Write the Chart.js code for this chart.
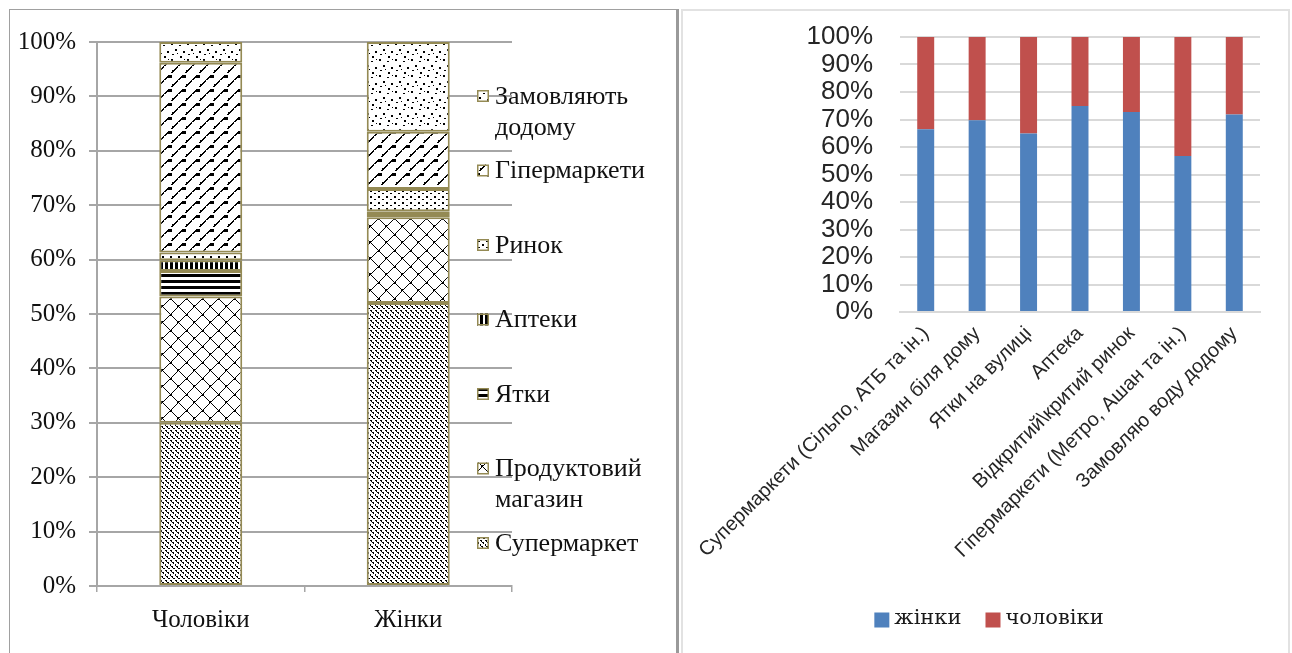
<!DOCTYPE html>
<html>
<head>
<meta charset="utf-8">
<script src="https://cdn.jsdelivr.net/npm/chart.js@4/dist/chart.umd.min.js"></script>
<style>
  html, body { margin: 0; padding: 0; background: #fff; width: 1292px; height: 653px; overflow: hidden; }
  .panel { position: absolute; box-sizing: border-box; }
  #leftPanel { left: 9px; top: 9px; width: 670px; height: 700px;
               border-left: 1.5px solid #a0a0a0; border-top: 1.5px solid #a0a0a0; border-right: 3px solid #9a9a9a; }
  #rightPanel { left: 681px; top: 9px; width: 609px; height: 700px; border: 2px solid #e2e2e2; }
  canvas { position: absolute; }
  #genderChart { left: 10px; top: 10px; }
  #placeChart { left: 683px; top: 11px; }
</style>
</head>
<body>
<div class="panel" id="leftPanel"></div>
<div class="panel" id="rightPanel"></div>
<canvas id="genderChart" width="666" height="643"></canvas>
<canvas id="placeChart" width="607" height="642"></canvas>
<script>
// ---- Where men and women buy water (shares, %) ----
const genderCategories = ['Чоловіки', 'Жінки'];
const outletLabels = ['Супермаркет', 'Продуктовий магазин', 'Ятки', 'Аптеки', 'Ринок', 'Гіпермаркети', 'Замовляють додому'];
const supermarketShare  = [30.0, 52.0];
const groceryShare      = [23.2, 15.8];
const stallShare        = [4.7, 0.6];
const pharmacyShare     = [2.0, 0.5];
const marketShare       = [1.4, 4.1];
const hypermarketShare  = [34.9, 10.5];
const deliveryShare     = [3.8, 16.5];

// ---- Gender split for each place of purchase (%) ----
const placeCategories = ['Супермаркети (Сільпо, АТБ та ін.)', 'Магазин біля дому', 'Ятки на вулиці', 'Аптека',
                         'Відкритий\\критий ринок', 'Гіпермаркети (Метро, Ашан та ін.)', 'Замовляю воду додому'];
const womenShare = [66.5, 69.7, 64.9, 74.9, 72.7, 56.7, 71.8];
const menShare   = [33.5, 30.3, 35.1, 25.1, 27.3, 43.3, 28.2];
const percentTicks = [0, 10, 20, 30, 40, 50, 60, 70, 80, 90, 100];

// ---------- hatch fills ----------
function makePattern(w, h, paint) {
  const c = document.createElement('canvas');
  c.width = w; c.height = h;
  const g = c.getContext('2d');
  g.fillStyle = '#fff'; g.fillRect(0, 0, w, h);
  g.fillStyle = '#000';
  paint((x, y, pw = 1, ph = 1) => g.fillRect(x, y, pw, ph), w, h);
  return g.createPattern(c, 'repeat');
}

const hatch = {
  // dashed downward diagonals
  supermarket: makePattern(10, 10, (px, w, h) => {
    for (let y = 0; y < h; y++) for (let x = 0; x < w; x++) {
      const d = ((x - y) % 5 + 5) % 5;
      if ((d === 0 && y % 5 !== 4) || (d === 1 && y % 2 === 0)) px(x, y);
    }
  }),
  // diamond lattice
  grocery: makePattern(16, 16, (px, w, h) => {
    for (let y = 0; y < h; y++) for (let x = 0; x < w; x++) {
      const a = ((x - y) % 16 + 16) % 16, b = (x + y) % 16;
      if (a === 0 || b === 0) px(x, y);
    }
    px(0, 0, 2, 2); px(7, 7, 2, 2);
  }),
  // horizontal stripes
  stalls: makePattern(4, 6, (px) => { px(0, 0, 4, 3); }),
  // vertical stripes
  pharmacy: makePattern(5, 4, (px) => { px(0, 0, 3, 4); }),
  // small dotted grid
  market: makePattern(8, 6, (px) => { px(0, 0, 2, 2); px(4, 3, 2, 1); }),
  // upward diagonals with wedges
  hypermarket: makePattern(14, 14, (px) => {
    for (let t = 0; t < 14; t++) {
      if (t < 4 || t > 6) px(t, 13 - t, 2, 1);
    }
    for (let y = 7; y < 12; y++) for (let x = 3; x < 8; x++) {
      if (x + y >= 13 && y >= 9) px(x, y);
    }
    px(8, 4, 3, 1);
  }),
  // sparse scattered dots
  delivery: makePattern(16, 16, (px) => {
    px(1, 1, 2, 2); px(9, 3, 2, 1); px(5, 7, 2, 2); px(13, 9, 2, 2);
    px(2, 12, 2, 1); px(10, 14, 2, 2); px(14, 1, 1, 1); px(7, 11, 1, 1);
  })
};

const olive = '#948A54';
const gridGrey = '#a6a6a6';
const serif = "'Liberation Serif', 'Times New Roman', serif";

const outletValues = [supermarketShare, groceryShare, stallShare, pharmacyShare, marketShare, hypermarketShare, deliveryShare];
const outletFills = [hatch.supermarket, hatch.grocery, hatch.stalls, hatch.pharmacy, hatch.market, hatch.hypermarket, hatch.delivery];

// legend at the right side of the hatched chart, top entry = last series
const sideLegend = {
  id: 'sideLegend',
  afterDraw(chart) {
    const ctx = chart.ctx;
    const sets = chart.data.datasets;
    ctx.save();
    ctx.font = '26px ' + serif;
    ctx.textBaseline = 'middle';
    ctx.textAlign = 'left';
    const boxX = 467, textX = 485, startY = 86, step = 74.5, lineH = 31, maxW = 165;
    for (let k = 0; k < sets.length; k++) {
      const ds = sets[sets.length - 1 - k];
      const y = startY + k * step;
      // wrap the label onto lines
      const words = ds.label.split(' ');
      const lines = [];
      let cur = '';
      words.forEach(wd => {
        const test = cur ? cur + ' ' + wd : wd;
        if (cur && ctx.measureText(test).width > maxW) { lines.push(cur); cur = wd; } else cur = test;
      });
      lines.push(cur);
      ctx.fillStyle = ds.backgroundColor;
      ctx.fillRect(boxX, y - 6, 12, 12);
      ctx.strokeStyle = olive; ctx.lineWidth = 1.5;
      ctx.strokeRect(boxX + 0.75, y - 5.25, 10.5, 10.5);
      ctx.fillStyle = '#111';
      lines.forEach((ln, i) => ctx.fillText(ln, textX, y + 1 + i * lineH));
    }
    ctx.restore();
  }
};

new Chart(document.getElementById('genderChart'), {
  type: 'bar',
  data: {
    labels: genderCategories,
    datasets: outletLabels.map((lab, i) => ({
      label: lab,
      data: outletValues[i],
      backgroundColor: outletFills[i],
      borderColor: olive,
      borderWidth: 2,
      borderSkipped: false,
      barPercentage: 0.4,
      categoryPercentage: 1.0
    }))
  },
  options: {
    responsive: false,
    animation: false,
    layout: { padding: { left: 0, right: 164, top: 32, bottom: 0 } },
    plugins: { legend: { display: false }, tooltip: { enabled: false } },
    scales: {
      x: {
        stacked: true,
        grid: { display: true, drawOnChartArea: false, drawTicks: true, tickLength: 6, color: gridGrey, lineWidth: 1.5, offset: true },
        border: { display: true, color: gridGrey, width: 2 },
        ticks: { padding: 13, color: '#111', font: { family: serif, size: 25 } },
        afterFit(s) { s.height = 67; }
      },
      y: {
        stacked: true, min: 0, max: 100,
        afterBuildTicks(s) { s.ticks = percentTicks.map(v => ({ value: v })); },
        ticks: { autoSkip: false, callback: v => v + '%', padding: 13, color: '#111', font: { family: serif, size: 25 } },
        grid: { color: gridGrey, lineWidth: 2, drawTicks: true, tickLength: 8 },
        border: { display: true, color: gridGrey, width: 2 },
        afterFit(s) { s.width = 87; }
      }
    }
  },
  plugins: [sideLegend]
});

// legend under the blue/red chart
const bottomLegend = {
  id: 'bottomLegend',
  afterDraw(chart) {
    const ctx = chart.ctx;
    const sets = chart.data.datasets;
    ctx.save();
    ctx.font = "21px 'DejaVu Serif', serif";
    ctx.textBaseline = 'middle';
    const box = 15, gap = 5, between = 24, cy = 608, cx = 306;
    const widths = sets.map(ds => box + gap + ctx.measureText(ds.label).width);
    const total = widths.reduce((a, b) => a + b, 0) + between * (sets.length - 1);
    let x = cx - total / 2;
    sets.forEach((ds, i) => {
      ctx.fillStyle = ds.backgroundColor;
      ctx.fillRect(x, cy - box / 2 + 1, box, box);
      ctx.fillStyle = '#1a1a1a';
      ctx.fillText(ds.label, x + box + gap, cy);
      x += widths[i] + between;
    });
    ctx.restore();
  }
};

new Chart(document.getElementById('placeChart'), {
  type: 'bar',
  data: {
    labels: placeCategories,
    datasets: [
      { label: 'жінки', data: womenShare, backgroundColor: '#4F81BD', barPercentage: 0.33, categoryPercentage: 1.0 },
      { label: 'чоловіки', data: menShare, backgroundColor: '#C0504D', barPercentage: 0.33, categoryPercentage: 1.0 }
    ]
  },
  options: {
    responsive: false,
    animation: false,
    layout: { padding: { left: 0, right: 30, top: 26, bottom: 0 } },
    plugins: { legend: { display: false }, tooltip: { enabled: false } },
    scales: {
      x: {
        stacked: true,
        grid: { display: false },
        border: { display: true, color: '#d9d9d9', width: 2 },
        ticks: { autoSkip: false, minRotation: 45, maxRotation: 45, padding: 2, color: '#262626',
                 font: { family: "'Liberation Sans', Arial, sans-serif", size: 20 } },
        afterFit(s) { s.height = 341; }
      },
      y: {
        stacked: true, min: 0, max: 100,
        afterBuildTicks(s) { s.ticks = percentTicks.map(v => ({ value: v })); },
        ticks: { autoSkip: false, callback: v => v + '%', padding: 4, color: '#262626',
                 font: { family: "'Liberation Sans', Arial, sans-serif", size: 26 } },
        grid: { color: '#d9d9d9', lineWidth: 2, drawTicks: true, tickLength: 23, tickColor: 'rgba(0,0,0,0)' },
        border: { display: false },
        afterFit(s) { s.width = 217; }
      }
    }
  },
  plugins: [bottomLegend]
});
</script>
</body>
</html>
